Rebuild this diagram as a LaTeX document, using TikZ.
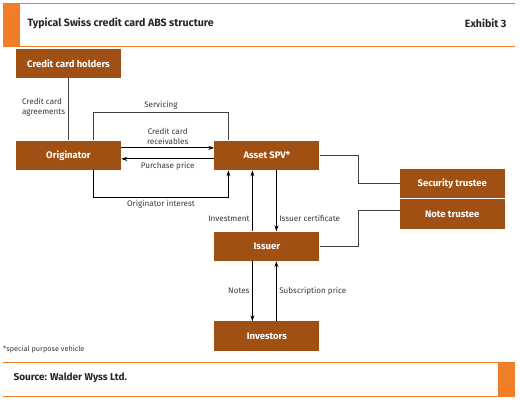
\documentclass[tikz,border=0pt]{standalone}
\usepackage{fontspec}
\setmainfont{Fira Sans}
\usetikzlibrary{arrows.meta, positioning}
\definecolor{spvbrown}{RGB}{160,80,18}
\definecolor{accent}{RGB}{240,125,40}
\definecolor{labelgray}{RGB}{55,55,65}

\begin{document}
\begin{tikzpicture}[
        node distance=61pt and 93pt,
        box/.style={rectangle, fill=spvbrown, text=white, minimum width=105pt, minimum height=29.5pt, inner sep=0pt, font=\fontsize{9.5}{11}\selectfont\bfseries},
        lbl/.style={font=\fontsize{8.1}{10}\selectfont, text=labelgray, inner sep=2.5pt},
        arrow/.style={-{Stealth[length=6pt, width=4pt]}, line width=0.8pt},
        link/.style={line width=0.8pt, black!75},
        rule/.style={accent, line width=0.9pt}
    ]
    \useasboundingbox (0,0) rectangle (520pt,-401pt);

    % Kopf und Fuss
    \fill[accent] (3pt,-3pt) rectangle (20pt,-46pt);
    \draw[rule] (3pt,-3pt) -- (515pt,-3pt);
    \draw[rule] (3pt,-46pt) -- (515pt,-46pt);
    \node (title) [anchor=west, font=\fontsize{10.6}{12}\selectfont\bfseries, text=black!85] at (24pt,-23pt) {Typical Swiss credit card ABS structure};
    \node (exhibit) [anchor=east, font=\fontsize{10.6}{12}\selectfont\bfseries, text=black!85] at (510pt,-23pt) {Exhibit 3};

    \fill[accent] (498pt,-362pt) rectangle (515pt,-396pt);
    \draw[rule] (3pt,-362pt) -- (515pt,-362pt);
    \draw[rule] (3pt,-396pt) -- (515pt,-396pt);
    \node (source) [anchor=west, font=\fontsize{10}{12}\selectfont\bfseries, text=black!85] at (10pt,-378pt) {Source: Walder Wyss Ltd.};
    \node (note) [anchor=west, inner sep=0pt, font=\fontsize{7.3}{9}\selectfont, text=labelgray] at (3pt,-349pt) {*special purpose vehicle};

    % Parteien
    \node (holders) [box] at (68.5pt,-63.5pt) {Credit card holders};
    \node (originator) [box, below=62pt of holders] {Originator};
    \node (spv) [box, right=of originator] {Asset SPV*};
    \node (issuer) [box, below=of spv] {Issuer};
    \node (investors) [box, below=60pt of issuer] {Investors};
    \node (security) [box, below right=-2pt and 80pt of spv] {Security trustee};
    \node (notetrustee) [box, below=1pt of security] {Note trustee};

    % Verbindungen
    \draw [link] (holders) -- (originator) node[lbl, midway, left, align=left, xshift=-0.5pt, yshift=2pt] {Credit card\\agreements};

    \draw [link] ([xshift=25pt]originator.north) -- ++(0,28pt) -| ([xshift=-38.5pt]spv.north)
        node[lbl, pos=0.25, above] {Servicing};
    \draw [arrow] ([yshift=7.5pt]originator.east) -- ([yshift=7.5pt]spv.west)
        node[lbl, midway, above, align=center] {Credit card\\receivables};
    \draw [arrow] ([yshift=-3.5pt]spv.west) -- ([yshift=-3.5pt]originator.east)
        node[lbl, midway, below] {Purchase price};
    \draw [arrow] ([xshift=25pt]originator.south) -- ++(0,-27pt) -| ([xshift=-38.5pt]spv.south)
        node[lbl, pos=0.25, below] {Originator interest};

    \draw [arrow] ([xshift=-14.5pt]issuer.north) -- ([xshift=-14.5pt]spv.south)
        node[lbl, pos=0.21, left] {Investment};
    \draw [arrow] ([xshift=9.5pt]spv.south) -- ([xshift=9.5pt]issuer.north)
        node[lbl, pos=0.79, right] {Issuer certificate};

    \draw [arrow] ([xshift=-14.5pt]issuer.south) -- ([xshift=-14.5pt]investors.north)
        node[lbl, midway, left] {Notes};
    \draw [arrow] ([xshift=9.5pt]investors.north) -- ([xshift=9.5pt]issuer.south)
        node[lbl, midway, right] {Subscription price};

    \draw [link] (spv.east) -- ++(39pt,0) |- (security.west);
    \draw [link] ([yshift=4pt]notetrustee.west) -- ++(-41pt,0) |- (issuer.east);

\end{tikzpicture}
\end{document}
